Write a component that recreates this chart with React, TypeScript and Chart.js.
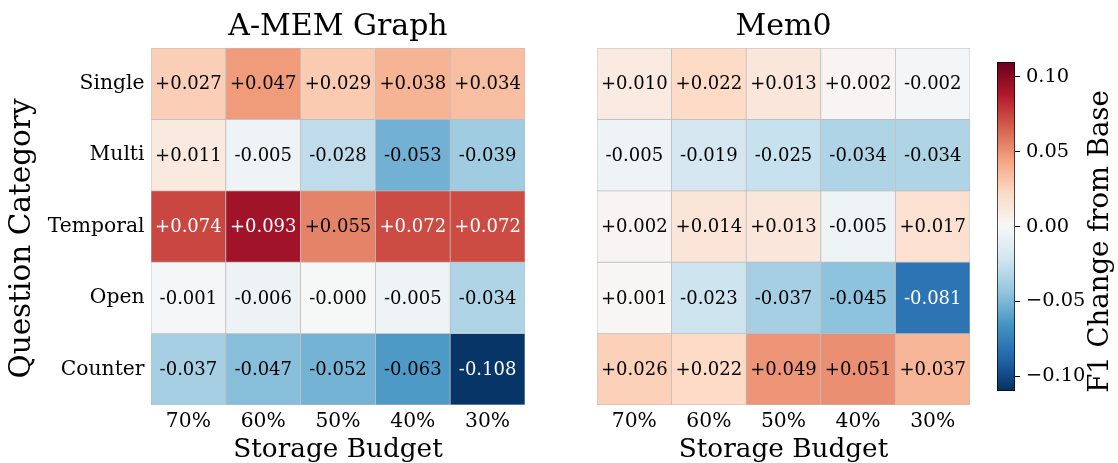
import React, { useEffect, useRef } from 'react';
import { Chart, registerables } from 'chart.js';

Chart.register(...registerables);

// ---------------- data ----------------
const budgets = ['70%', '60%', '50%', '40%', '30%'];
const categories = ['Single', 'Multi', 'Temporal', 'Open', 'Counter'];

// rows = categories, columns = budgets
const amemValues = [
  [0.027, 0.047, 0.029, 0.038, 0.034],
  [0.011, -0.005, -0.028, -0.053, -0.039],
  [0.074, 0.093, 0.055, 0.072, 0.072],
  [-0.001, -0.006, -0.0004, -0.005, -0.034],
  [-0.037, -0.047, -0.052, -0.063, -0.108],
];

const mem0Values = [
  [0.010, 0.022, 0.013, 0.002, -0.002],
  [-0.005, -0.019, -0.025, -0.034, -0.034],
  [0.002, 0.014, 0.013, -0.005, 0.017],
  [0.001, -0.023, -0.037, -0.045, -0.081],
  [0.026, 0.022, 0.049, 0.051, 0.037],
];

const colorbarTicks = [-0.1, -0.05, 0, 0.05, 0.1];

// ---------------- styling ----------------
const VMIN = -0.11;
const VMAX = 0.11;
const FONT = "'DejaVu Serif', 'Liberation Serif', serif";
const GRID_COLOR = '#bdbdbd';
const TICK_SIZE = 20.3;
const RDBU_R = [
  '#053061', '#2166ac', '#4393c3', '#92c5de', '#d1e5f0', '#f7f7f7',
  '#fddbc7', '#f4a582', '#d6604d', '#b2182b', '#67001f',
];

function hexToRgb(h: string) {
  return [parseInt(h.slice(1, 3), 16), parseInt(h.slice(3, 5), 16), parseInt(h.slice(5, 7), 16)];
}
const RDBU_RGB = RDBU_R.map(hexToRgb);

function cmap(v: number) {
  let t = (v - VMIN) / (VMAX - VMIN);
  t = Math.max(0, Math.min(1, t));
  const pos = t * (RDBU_RGB.length - 1);
  const i = Math.min(Math.floor(pos), RDBU_RGB.length - 2);
  const f = pos - i;
  const a = RDBU_RGB[i];
  const b = RDBU_RGB[i + 1];
  const c = a.map((x, k) => Math.round(x + (b[k] - x) * f));
  return `rgb(${c[0]},${c[1]},${c[2]})`;
}

function fmtCell(v: number) {
  return (v < 0 ? '-' : '+') + Math.abs(v).toFixed(3);
}

function fmtTick(v: number) {
  const s = Math.abs(v).toFixed(2);
  return v < -1e-9 ? '\u2212' + s : s;
}

function cellLabels(values: number[][]) {
  return {
    id: 'cellLabels',
    afterDatasetsDraw(chart: any) {
      const ctx = chart.ctx;
      ctx.save();
      ctx.font = `18px ${FONT}`;
      ctx.textAlign = 'center';
      ctx.textBaseline = 'middle';
      chart.data.datasets.forEach((_: any, r: number) => {
        const meta = chart.getDatasetMeta(r);
        meta.data.forEach((el: any, c: number) => {
          const v = values[r][c];
          const { x, y, base } = el.getProps(['x', 'y', 'base'], true);
          ctx.fillStyle = Math.abs(v) >= 0.07 ? '#ffffff' : '#000000';
          ctx.fillText(fmtCell(v), x, (y + base) / 2 + 1);
        });
      });
      ctx.restore();
    },
  };
}

function yLabel(text: string, show: boolean) {
  return {
    id: 'yLabel',
    afterDraw(chart: any) {
      if (!show) return;
      const { ctx, chartArea } = chart;
      ctx.save();
      ctx.translate(22, (chartArea.top + chartArea.bottom) / 2 + 12);
      ctx.rotate(-Math.PI / 2);
      ctx.font = `29.5px ${FONT}`;
      ctx.textAlign = 'center';
      ctx.textBaseline = 'middle';
      ctx.fillStyle = '#000';
      ctx.fillText(text, 0, 0);
      ctx.restore();
    },
  };
}

type HeatProps = {
  values: number[][];
  title: string;
  showY: boolean;
  left: number;
  width: number;
  yWidth: number;
  padRight: number;
};

function Heatmap({ values, title, showY, left, width, yWidth, padRight }: HeatProps) {
  const ref = useRef<HTMLCanvasElement>(null);
  useEffect(() => {
    const chart = new Chart(ref.current as HTMLCanvasElement, {
      type: 'bar',
      data: {
        labels: budgets,
        datasets: categories.map((cat, r) => ({
          label: cat,
          data: budgets.map(() => [r - 0.5, r + 0.5]),
          backgroundColor: values[r].map(cmap),
          borderColor: GRID_COLOR,
          borderWidth: 0.75,
          borderSkipped: false,
          grouped: false,
          barPercentage: 1,
          categoryPercentage: 1,
        })) as any,
      },
      options: {
        animation: false,
        responsive: false,
        events: [],
        layout: { padding: { left: 0, right: padRight, top: 0, bottom: 0 } },
        plugins: {
          legend: { display: false },
          tooltip: { enabled: false },
          title: {
            display: true,
            text: title,
            fullSize: false,
            color: '#000',
            font: { family: FONT, size: 30, weight: 'normal', lineHeight: 1 },
            padding: { top: 12, bottom: 6 },
          },
        },
        scales: {
          x: {
            type: 'category',
            offset: true,
            grid: { display: false, drawTicks: false },
            border: { display: false },
            ticks: {
              color: '#000',
              font: { family: FONT, size: TICK_SIZE },
              padding: 4.5,
              maxRotation: 0,
              autoSkip: false,
            },
            title: {
              display: true,
              text: 'Storage Budget',
              color: '#000',
              font: { family: FONT, size: 26.3, lineHeight: 1 },
              padding: { top: 0, bottom: 0 },
            },
            afterFit: (s: any) => {
              s.height = 58;
            },
          },
          y: {
            type: 'linear',
            display: true,
            min: -0.5,
            max: 4.5,
            reverse: true,
            grid: { display: false, drawTicks: false },
            border: { display: false },
            afterBuildTicks: (s: any) => {
              s.ticks = categories.map((_, i) => ({ value: i }));
            },
            ticks: {
              display: showY,
              color: '#000',
              font: { family: FONT, size: TICK_SIZE },
              padding: 6.5,
              autoSkip: false,
              callback: (v: any) => categories[Number(v)] ?? '',
            },
            title: { display: false },
            afterFit: (s: any) => {
              s.width = yWidth;
            },
          },
        },
      } as any,
      plugins: [cellLabels(values), yLabel('Question Category', showY)],
    });
    return () => chart.destroy();
  }, []);
  return (
    <canvas
      ref={ref}
      width={width}
      height={463}
      style={{ position: 'absolute', left, top: 0, width, height: 463 }}
    />
  );
}

const colorbarLabel = {
  id: 'colorbarLabel',
  afterDraw(chart: any) {
    const { ctx, chartArea } = chart;
    ctx.save();
    ctx.translate(chartArea.right + 86, (chartArea.top + chartArea.bottom) / 2 + 15);
    ctx.rotate(-Math.PI / 2);
    ctx.font = `27.5px ${FONT}`;
    ctx.textAlign = 'center';
    ctx.textBaseline = 'middle';
    ctx.fillStyle = '#000';
    ctx.fillText('F1 Change from Base', 0, 0);
    ctx.restore();
  },
};

function Colorbar() {
  const ref = useRef<HTMLCanvasElement>(null);
  useEffect(() => {
    const chart = new Chart(ref.current as HTMLCanvasElement, {
      type: 'bar',
      data: {
        labels: ['F1'],
        datasets: [
          {
            data: [[VMIN, VMAX]],
            backgroundColor: (c: any) => {
              const ch = c.chart;
              if (!ch.chartArea) return RDBU_R[5];
              const y = ch.scales.y;
              const g = ch.ctx.createLinearGradient(0, y.getPixelForValue(VMIN), 0, y.getPixelForValue(VMAX));
              RDBU_R.forEach((col, i) => g.addColorStop(i / (RDBU_R.length - 1), col));
              return g;
            },
            borderColor: '#000',
            borderWidth: 1,
            borderSkipped: false,
            barPercentage: 1,
            categoryPercentage: 1,
          },
        ] as any,
      },
      options: {
        animation: false,
        responsive: false,
        events: [],
        layout: { padding: { left: 17, right: 0, top: 62, bottom: 72 } },
        plugins: { legend: { display: false }, tooltip: { enabled: false } },
        scales: {
          x: { display: false, offset: true },
          y: {
            position: 'right',
            min: VMIN,
            max: VMAX,
            grid: {
              display: true,
              drawOnChartArea: false,
              drawTicks: true,
              tickLength: 5,
              color: '#000',
              lineWidth: 1,
            },
            border: { display: false },
            afterBuildTicks: (s: any) => {
              s.ticks = colorbarTicks.map((v) => ({ value: v }));
            },
            ticks: {
              color: '#000',
              font: { family: FONT, size: 19.4 },
              padding: 6,
              callback: (v: any) => fmtTick(Number(v)),
            },
            afterFit: (s: any) => {
              s.width = 103;
            },
          },
        },
      } as any,
      plugins: [colorbarLabel],
    });
    return () => chart.destroy();
  }, []);
  return (
    <canvas
      ref={ref}
      width={138}
      height={463}
      style={{ position: 'absolute', left: 980, top: 0, width: 138, height: 463 }}
    />
  );
}

export default function App() {
  return (
    <div
      style={{
        position: 'absolute',
        left: 0,
        top: 0,
        width: 1118,
        height: 463,
        background: '#fff',
        overflow: 'hidden',
      }}
    >
      <Heatmap values={amemValues} title="A-MEM Graph" showY={true} left={0} width={560} yWidth={151} padRight={35} />
      <Heatmap values={mem0Values} title="Mem0" showY={false} left={560} width={410} yWidth={37} padRight={0} />
      <Colorbar />
    </div>
  );
}
